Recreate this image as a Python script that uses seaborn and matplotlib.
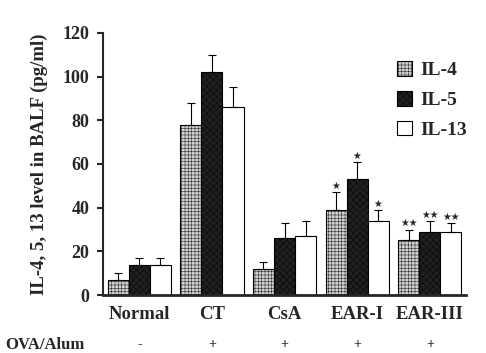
import matplotlib

matplotlib.use("Agg")
import matplotlib.pyplot as plt
import numpy as np
import pandas as pd
import seaborn as sns
from matplotlib.patches import Patch

groups = ["Normal", "CT", "CsA", "EAR-I", "EAR-III"]
cytokines = ["IL-4", "IL-5", "IL-13"]
il4 = [7, 78, 12, 39, 25]
il5 = [14, 102, 26, 53, 29]
il13 = [14, 86, 27, 34, 29]
il4_err = [3, 10, 3, 8, 5]
il5_err = [3, 8, 7, 8, 5]
il13_err = [3, 9, 7, 5, 4]
il4_sig = ["", "", "", "★", "★★"]
il5_sig = ["", "", "", "★", "★★"]
il13_sig = ["", "", "", "★", "★★"]
ova_alum = ["-", "+", "+", "+", "+"]

sns.set_style("ticks")
plt.rcParams["font.family"] = ["Liberation Serif", "DejaVu Sans"]
plt.rcParams["font.weight"] = "bold"
plt.rcParams["hatch.linewidth"] = 0.3

df = pd.DataFrame({
    "group": groups * 3,
    "cytokine": np.repeat(cytokines, len(groups)),
    "value": il4 + il5 + il13,
})

fig = plt.figure(figsize=(4.86, 3.53), dpi=100)
ax = fig.add_axes([0.212, 0.164, 0.747, 0.743])

palette = {"IL-4": "#cfcfcf", "IL-5": "#202020", "IL-13": "white"}
sns.barplot(data=df, x="group", y="value", hue="cytokine", order=groups,
            hue_order=cytokines, palette=palette, errorbar=None, width=0.87,
            gap=0, edgecolor="black", linewidth=0.8, ax=ax, legend=False)

hatches = ["+++++", "xxxxx", ""]
errs = [il4_err, il5_err, il13_err]
sigs = [il4_sig, il5_sig, il13_sig]
for cont, h, e, s in zip(ax.containers, hatches, errs, sigs):
    for bar, err, sig in zip(cont, e, s):
        bar.set_hatch(h)
        x = bar.get_x() + bar.get_width() / 2
        top = bar.get_height()
        ax.errorbar(x, top, yerr=[[0], [err]], fmt="none", ecolor="black",
                    elinewidth=0.8, capsize=3, capthick=0.8)
        if sig:
            ax.text(x, top + err + 0.5, sig, ha="center", va="bottom",
                    fontsize=7, family=["DejaVu Sans"])

handles = [Patch(facecolor=palette[c], edgecolor="black", hatch=h, linewidth=0.8)
           for c, h in zip(cytokines, hatches)]
ax.legend(handles, cytokines, loc="upper right", bbox_to_anchor=(1.05, 0.96),
          frameon=False, handlelength=0.8, handleheight=0.8,
          labelspacing=0.6, handletextpad=0.4, prop={"weight": "bold", "size": 14})

ax.set_xlim(-0.5, 4.5)
ax.set_ylim(0, 120)
ax.set_yticks(range(0, 121, 20))
ax.tick_params(axis="y", labelsize=13, width=1.5, length=4, direction="out", pad=6)
ax.tick_params(axis="x", length=0, labelsize=13.5, pad=8)
for lab in ax.get_xticklabels() + ax.get_yticklabels():
    lab.set_fontweight("bold")
ax.set_xlabel("")
ax.set_ylabel("IL-4, 5, 13 level in BALF (pg/ml)", fontsize=13.5,
              fontweight="bold", labelpad=10)
sns.despine(ax=ax)
ax.spines["left"].set_linewidth(1.5)
ax.spines["bottom"].set_linewidth(2)

ax.text(-0.27, -0.19, "OVA/Alum", transform=ax.transAxes, fontsize=12,
        fontweight="bold", ha="left", va="center")
for i, sign in enumerate(ova_alum):
    ax.text(i, -0.19, sign, transform=ax.get_xaxis_transform(), fontsize=10,
            ha="center", va="center")

fig.savefig("out.png", dpi=100)
